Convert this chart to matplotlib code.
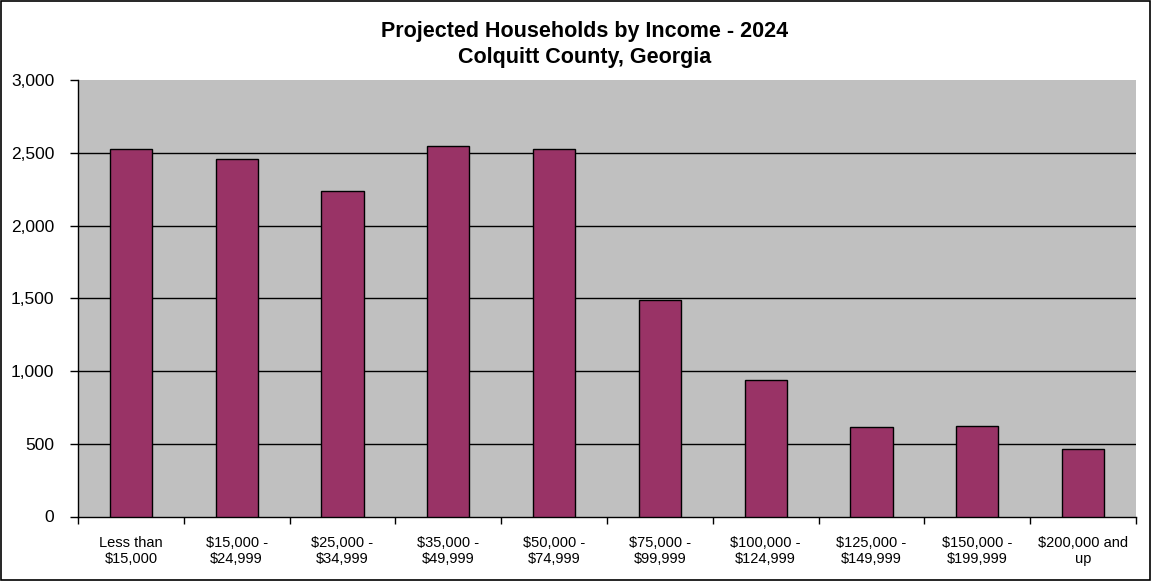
import matplotlib
matplotlib.use("Agg")
import matplotlib.pyplot as plt
from matplotlib.patches import Rectangle
import numpy as np

plt.rcParams['font.family'] = ['Liberation Sans', 'DejaVu Sans']

categories = ["Less than\n$15,000", "$15,000 -\n$24,999", "$25,000 -\n$34,999",
              "$35,000 -\n$49,999", "$50,000 -\n$74,999", "$75,000 -\n$99,999",
              "$100,000 -\n$124,999", "$125,000 -\n$149,999", "$150,000 -\n$199,999",
              "$200,000 and\nup"]
households = [2524, 2457, 2237, 2546, 2527, 1488, 939, 613, 622, 464]
y_ticks = [0, 500, 1000, 1500, 2000, 2500, 3000]
y_tick_labels = ["0", "500", "1,000", "1,500", "2,000", "2,500", "3,000"]

W, H = 1151, 581
fig = plt.figure(figsize=(W / 100, H / 100), dpi=100)
ax = fig.add_axes([78 / W, 1 - 516.5 / H, (1136 - 78) / W, (516.5 - 80) / H])

ax.set_facecolor("#c0c0c0")
x = np.arange(len(categories))
ax.bar(x, households, width=0.4, color="#993366", edgecolor="black", linewidth=1, zorder=3)

ax.set_xlim(-0.5, len(categories) - 0.5)
ax.set_ylim(0, 3000)
ax.set_yticks(y_ticks)
ax.set_yticklabels(y_tick_labels, fontsize=12.5)
# horizontal gridlines at interior major ticks
for t in y_ticks[1:-1]:
    ax.axhline(t, color="black", linewidth=1, zorder=1)

ax.set_xticks(x)
ax.set_xticklabels(categories, fontsize=10.5, linespacing=1.2)
ax.tick_params(axis="x", length=0, pad=14)
# tick marks at category boundaries
ax.set_xticks(np.arange(-0.5, len(categories), 1), minor=True)
ax.tick_params(axis="x", which="minor", length=5, width=1, direction="out")
ax.tick_params(axis="y", length=6, width=1, direction="out", pad=11)

for side in ("top", "right"):
    ax.spines[side].set_visible(False)
for side in ("left", "bottom"):
    ax.spines[side].set_color("black")
    ax.spines[side].set_linewidth(1)

fig.text(585 / W, 1 - 31 / H, "Projected Households by Income - 2024",
         ha="center", va="center", fontsize=15.5, fontweight="bold")
fig.text(585 / W, 1 - 57 / H, "Colquitt County, Georgia",
         ha="center", va="center", fontsize=15.5, fontweight="bold")

fig.patches.append(Rectangle((1 / W, 1 / H), (W - 2) / W, (H - 2) / H,
                             transform=fig.transFigure, fill=False,
                             edgecolor="black", linewidth=1.2))

fig.savefig("out.png", dpi=100)
